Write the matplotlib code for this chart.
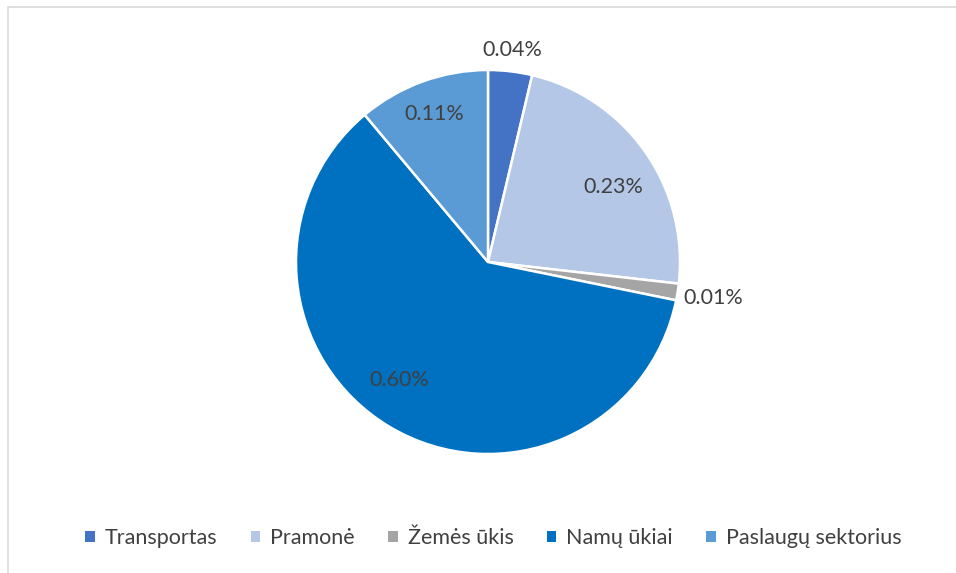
import matplotlib
matplotlib.use("Agg")
import matplotlib.pyplot as plt
from matplotlib.patches import Patch, Rectangle
import numpy as np

categories = ["Transportas", "Pramonė", "Žemės ūkis", "Namų ūkiai", "Paslaugų sektorius"]
values = [0.037, 0.231, 0.014, 0.607, 0.111]
labels = ["0.04%", "0.23%", "0.01%", "0.60%", "0.11%"]
colors = ["#4472C4", "#B4C7E7", "#A5A5A5", "#0070C0", "#5B9BD5"]
label_dist = [1.11, 0.76, 1.19, 0.77, 0.82]
label_shift = [0, -4, 0, -6, 0]  # degrees

plt.rcParams['font.family'] = ['Lato', 'DejaVu Sans']
W, H = 956, 573
fig = plt.figure(figsize=(W / 100, H / 100), dpi=100)
fig.patches.append(Rectangle((8 / W, -0.2), 1.2, 1.2 - 7 / H, transform=fig.transFigure,
                             fill=False, edgecolor="#D9D9D9", linewidth=1.2))

cx, cy, R = 488, 262, 192
ax = fig.add_axes([(cx - R) / W, (H - cy - R) / H, 2 * R / W, 2 * R / H])
wedges, _ = ax.pie(values, colors=colors, startangle=90, counterclock=False,
                   wedgeprops=dict(edgecolor="white", linewidth=1.8))
ax.set_xlim(-1, 1)
ax.set_ylim(-1, 1)
ax.set_aspect("equal")
ax.axis("off")

for w, lab, d, s in zip(wedges, labels, label_dist, label_shift):
    ang = np.deg2rad((w.theta1 + w.theta2) / 2 + s)
    ax.text(d * np.cos(ang), d * np.sin(ang), lab, ha="center", va="center",
            fontsize=15.5, color="#404040")

handles = [Patch(facecolor=c, edgecolor="none") for c in colors]
fig.legend(handles, categories, loc="center", bbox_to_anchor=(0.516, 1 - 538 / H),
           ncol=5, frameon=False, fontsize=15.5, handlelength=0.45, handleheight=0.45,
           handletextpad=0.45, columnspacing=1.55, labelcolor="#404040")

fig.savefig("out.png", dpi=100)
